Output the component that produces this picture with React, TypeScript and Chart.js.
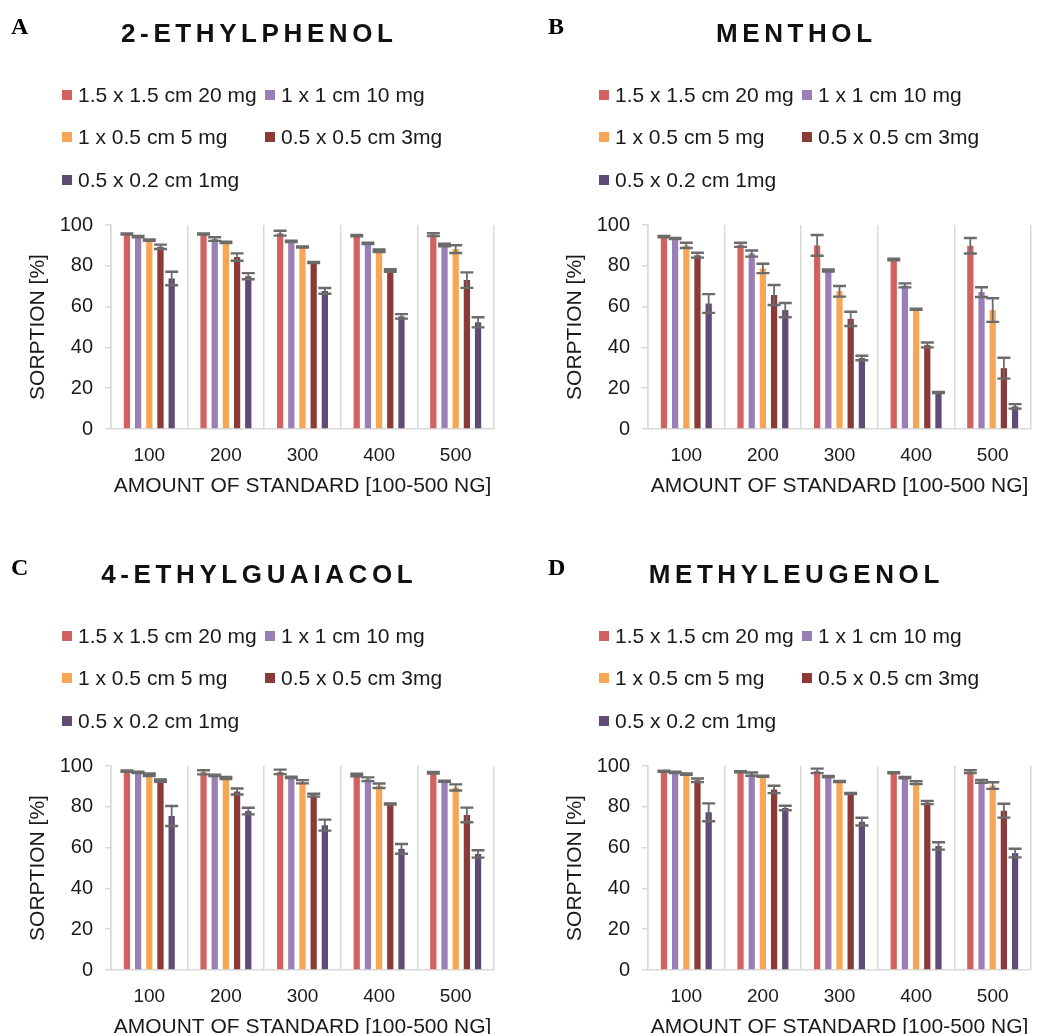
import React, { useEffect, useRef } from "react";
import { Chart, registerables } from "chart.js";

Chart.register(...registerables);

// ---------- data ----------
const categories = ["100", "200", "300", "400", "500"];
const seriesLabels = [
  "1.5 x 1.5 cm 20 mg",
  "1 x 1 cm 10 mg",
  "1 x 0.5 cm 5 mg",
  "0.5 x 0.5 cm 3mg",
  "0.5 x 0.2 cm 1mg",
];
const seriesColors = ["#D1625F", "#9A7FB7", "#F7A656", "#8C3A38", "#5F4B76"];
const yTickValues = [0, 20, 40, 60, 80, 100];

// A: 2-ETHYLPHENOL (rows = series, cols = categories)
const ethylphenolMeans = [
  [95.6, 95.6, 96.0, 94.8, 95.3],
  [94.3, 93.1, 92.0, 91.0, 90.2],
  [92.6, 91.5, 89.2, 87.4, 88.2],
  [89.3, 84.3, 81.6, 77.7, 73.0],
  [73.8, 74.9, 67.7, 55.2, 52.3],
];
const ethylphenolErrors = [
  [0.3, 0.3, 1.2, 0.3, 0.7],
  [0.3, 0.9, 0.3, 0.3, 0.6],
  [0.3, 0.3, 0.3, 0.6, 1.9],
  [1.1, 1.8, 0.3, 0.6, 3.8],
  [3.3, 1.5, 1.4, 1.1, 2.5],
];

// B: MENTHOL
const mentholMeans = [
  [94.3, 90.3, 90.0, 83.1, 89.8],
  [93.4, 86.0, 77.7, 70.4, 67.1],
  [90.0, 78.7, 67.5, 58.7, 58.3],
  [85.2, 65.7, 54.0, 41.2, 29.8],
  [61.5, 58.3, 34.8, 17.9, 11.1],
];
const mentholErrors = [
  [0.3, 1.0, 5.1, 0.4, 3.8],
  [0.3, 1.5, 0.5, 1.0, 2.4],
  [1.3, 2.3, 2.6, 0.3, 5.8],
  [1.2, 4.9, 3.5, 1.2, 5.1],
  [4.6, 3.5, 1.1, 0.3, 1.1],
];

// C: 4-ETHYLGUAIACOL
const guaiacolMeans = [
  [97.5, 96.9, 97.1, 95.6, 96.7],
  [96.9, 95.4, 94.4, 93.5, 92.5],
  [95.7, 94.1, 92.3, 90.3, 89.5],
  [92.8, 87.5, 85.7, 81.4, 76.0],
  [75.5, 77.9, 71.0, 59.4, 56.9],
];
const guaiacolErrors = [
  [0.3, 1.0, 1.1, 0.6, 0.4],
  [0.3, 0.3, 0.3, 0.9, 0.3],
  [0.6, 0.5, 0.8, 1.1, 1.5],
  [0.6, 1.5, 0.7, 0.3, 3.6],
  [4.9, 1.6, 2.7, 2.4, 1.8],
];

// D: METHYLEUGENOL
const eugenolMeans = [
  [97.4, 97.2, 97.6, 96.7, 97.3],
  [96.9, 96.0, 94.8, 94.3, 92.5],
  [96.0, 95.0, 92.4, 91.8, 90.4],
  [93.0, 88.5, 86.5, 82.1, 78.1],
  [77.3, 79.4, 72.7, 60.8, 57.3],
];
const eugenolErrors = [
  [0.3, 0.3, 1.1, 0.3, 0.7],
  [0.3, 0.8, 0.3, 0.3, 0.7],
  [0.3, 0.3, 0.3, 0.7, 1.6],
  [0.9, 1.8, 0.3, 0.8, 3.4],
  [4.4, 1.1, 1.9, 1.8, 2.1],
];

const FONT = "'Liberation Sans', Arial, Helvetica, sans-serif";
const TEXT = "#1a1a1a";
const AXIS = "#d9d9d9";

type PanelProps = {
  letter: string;
  title: string;
  means: number[][];
  errors: number[][];
  left: number;
  top: number;
};

const CANVAS_W = 502;
const CANVAS_H = 541;

function Panel({ letter, title, means, errors, left, top }: PanelProps) {
  const ref = useRef<HTMLCanvasElement | null>(null);

  useEffect(() => {
    if (!ref.current) return;

    const errorBars = {
      id: "errorBars",
      afterDatasetsDraw(chart: any) {
        const ctx = chart.ctx;
        const ys = chart.scales.y;
        chart.data.datasets.forEach((ds: any, i: number) => {
          const meta = chart.getDatasetMeta(i);
          meta.data.forEach((el: any, j: number) => {
            const v = ds.data[j];
            const e = ds.errors[j];
            const yt = ys.getPixelForValue(v + e);
            const yb = ys.getPixelForValue(v - e);
            ctx.save();
            ctx.strokeStyle = "#6b6b6b";
            ctx.lineWidth = 1.8;
            ctx.beginPath();
            ctx.moveTo(el.x, yt);
            ctx.lineTo(el.x, yb);
            ctx.stroke();
            ctx.lineWidth = 2.4;
            ctx.beginPath();
            ctx.moveTo(el.x - 6.5, yt);
            ctx.lineTo(el.x + 6.5, yt);
            ctx.moveTo(el.x - 6.5, yb);
            ctx.lineTo(el.x + 6.5, yb);
            ctx.stroke();
            ctx.restore();
          });
        });
      },
    };

    const decor = {
      id: "decor",
      afterDraw(chart: any) {
        const ctx = chart.ctx;
        ctx.save();
        // panel letter
        ctx.fillStyle = "#000";
        ctx.font = "bold 24px 'Liberation Serif', 'Times New Roman', serif";
        ctx.textAlign = "left";
        ctx.textBaseline = "alphabetic";
        ctx.fillText(letter, 11, 34);
        // title
        ctx.font = `bold 26px ${FONT}`;
        const ls = 4.6;
        (ctx as any).letterSpacing = `${ls}px`;
        const w = ctx.measureText(title).width - ls;
        ctx.fillStyle = "#111";
        ctx.fillText(title, 257 - w / 2, 42);
        (ctx as any).letterSpacing = "0px";
        // legend
        const cols = [62, 265];
        const rows = [95, 137, 180];
        ctx.font = `21px ${FONT}`;
        ctx.textBaseline = "middle";
        seriesLabels.forEach((lab, k) => {
          const x = cols[k % 2];
          const y = rows[Math.floor(k / 2)];
          ctx.fillStyle = seriesColors[k];
          ctx.fillRect(x, y - 5, 10, 10);
          ctx.fillStyle = TEXT;
          ctx.fillText(lab, x + 16, y + 1);
        });
        ctx.restore();
      },
    };

    const chart = new Chart(ref.current, {
      type: "bar",
      data: {
        labels: categories,
        datasets: seriesLabels.map((lab, k) => ({
          label: lab,
          data: means[k],
          errors: errors[k],
          backgroundColor: seriesColors[k],
          borderWidth: 0,
          categoryPercentage: 0.73,
          barPercentage: 0.56,
        })) as any,
      },
      options: {
        animation: false,
        responsive: false,
        devicePixelRatio: 1,
        layout: { padding: { top: 225, left: 0, right: 8, bottom: 42 } },
        plugins: {
          legend: { display: false },
          tooltip: { enabled: false },
          title: { display: false },
        },
        scales: {
          x: {
            grid: { offset: true, color: AXIS, lineWidth: 1.5, drawTicks: false },
            border: { color: AXIS, width: 1.5 },
            ticks: { font: { size: 19, family: FONT }, color: TEXT, padding: 15 },
            title: {
              display: true,
              text: "AMOUNT OF STANDARD [100-500 NG]",
              font: { size: 21, family: FONT },
              color: TEXT,
              padding: { top: 0, bottom: 0 },
            },
            afterFit: (s: any) => {
              s.height = 70;
            },
          },
          y: {
            min: 0,
            max: 100,
            grid: { drawOnChartArea: false, color: AXIS, tickLength: 6, lineWidth: 1.5 },
            border: { color: AXIS, width: 1.5 },
            ticks: { font: { size: 20, family: FONT }, color: TEXT, padding: 12 },
            afterBuildTicks: (s: any) => {
              s.ticks = yTickValues.map((v) => ({ value: v }));
            },
            title: {
              display: true,
              text: "SORPTION [%]",
              font: { size: 21, family: FONT },
              color: TEXT,
              padding: { top: 26, bottom: 0 },
            },
            afterFit: (s: any) => {
              s.width = 111;
            },
          },
        },
      } as any,
      plugins: [errorBars, decor],
    });
    return () => chart.destroy();
  }, [letter, title, means, errors]);

  return (
    <canvas
      ref={ref}
      width={CANVAS_W}
      height={CANVAS_H}
      style={{ position: "absolute", left, top, width: CANVAS_W, height: CANVAS_H }}
    />
  );
}

export default function App() {
  return (
    <div
      style={{
        position: "absolute",
        left: 0,
        top: 0,
        width: 1039,
        height: 1034,
        overflow: "hidden",
        background: "#fff",
      }}
    >
      <Panel letter="A" title="2-ETHYLPHENOL" means={ethylphenolMeans} errors={ethylphenolErrors} left={0} top={0} />
      <Panel letter="B" title="MENTHOL" means={mentholMeans} errors={mentholErrors} left={537} top={0} />
      <Panel letter="C" title="4-ETHYLGUAIACOL" means={guaiacolMeans} errors={guaiacolErrors} left={0} top={541} />
      <Panel letter="D" title="METHYLEUGENOL" means={eugenolMeans} errors={eugenolErrors} left={537} top={541} />
    </div>
  );
}
